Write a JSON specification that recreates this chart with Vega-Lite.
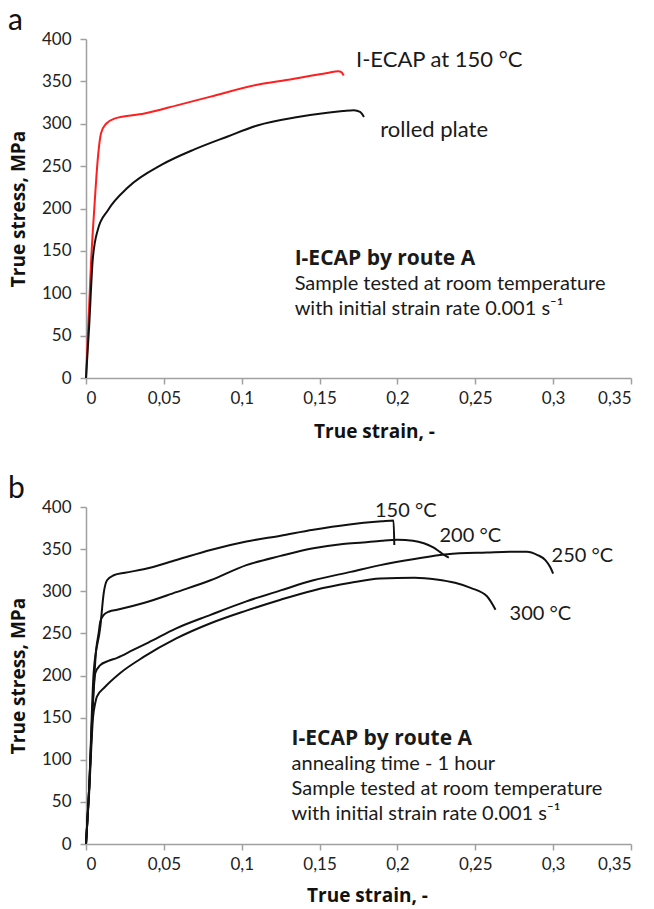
{
  "$schema": "https://vega.github.io/schema/vega-lite/v6.json",
  "padding": {"left": 8, "top": 6, "right": 10, "bottom": 0},
  "spacing": 33,
  "config": {
    "view": {"stroke": null},
    "font": "Lato",
    "axis": {"grid": false, "domainColor": "#a0a0a0", "domainWidth": 1.5, "tickColor": "#a0a0a0", "tickWidth": 1.5, "tickSize": 6, "labelFont": "Lato", "labelFontSize": 17, "labelColor": "#222222", "titleFont": "Open Sans", "titleFontSize": 19, "titleFontWeight": "bold", "titleColor": "#111111"},
    "title": {"font": "Lato", "fontSize": 30, "fontWeight": "normal", "color": "#111111", "anchor": "start", "frame": "group", "dx": -78, "offset": -6}
  },
  "vconcat": [
    {
      "title": "a",
      "width": 545,
      "height": 339,
      "encoding": {
        "x": {"field": "strain", "type": "quantitative", "scale": {"domain": [0, 0.35], "nice": false, "zero": false},
              "axis": {"values": [0, 0.05, 0.1, 0.15, 0.2, 0.25, 0.3, 0.35], "labelExpr": "replace(format(datum.value, '~g'), '.', ',')", "labelPadding": 6, "title": "True strain, -", "titleX": 288, "titleY": 44}},
        "y": {"field": "stress", "type": "quantitative", "scale": {"domain": [0, 400], "nice": false},
              "axis": {"values": [0, 50, 100, 150, 200, 250, 300, 350, 400], "labelPadding": 9, "title": "True stress, MPa", "titleX": -58}}
      },
      "layer": [
        {
          "data": {"values": [
            {"series": "I-ECAP at 150 °C", "strain": 0, "stress": 0},
            {"series": "I-ECAP at 150 °C", "strain": 0.0033, "stress": 139},
            {"series": "I-ECAP at 150 °C", "strain": 0.0054, "stress": 202},
            {"series": "I-ECAP at 150 °C", "strain": 0.0075, "stress": 257},
            {"series": "I-ECAP at 150 °C", "strain": 0.0097, "stress": 289},
            {"series": "I-ECAP at 150 °C", "strain": 0.0129, "stress": 300},
            {"series": "I-ECAP at 150 °C", "strain": 0.0182, "stress": 306},
            {"series": "I-ECAP at 150 °C", "strain": 0.0375, "stress": 312},
            {"series": "I-ECAP at 150 °C", "strain": 0.059, "stress": 322},
            {"series": "I-ECAP at 150 °C", "strain": 0.08, "stress": 332},
            {"series": "I-ECAP at 150 °C", "strain": 0.11, "stress": 346},
            {"series": "I-ECAP at 150 °C", "strain": 0.13, "stress": 352},
            {"series": "I-ECAP at 150 °C", "strain": 0.155, "stress": 360},
            {"series": "I-ECAP at 150 °C", "strain": 0.162, "stress": 362},
            {"series": "I-ECAP at 150 °C", "strain": 0.164, "stress": 361},
            {"series": "I-ECAP at 150 °C", "strain": 0.1655, "stress": 357},
            {"series": "rolled plate", "strain": 0, "stress": 0},
            {"series": "rolled plate", "strain": 0.002, "stress": 60},
            {"series": "rolled plate", "strain": 0.0043, "stress": 139},
            {"series": "rolled plate", "strain": 0.0076, "stress": 175},
            {"series": "rolled plate", "strain": 0.0141, "stress": 198},
            {"series": "rolled plate", "strain": 0.027, "stress": 225},
            {"series": "rolled plate", "strain": 0.049, "stress": 252},
            {"series": "rolled plate", "strain": 0.07, "stress": 270},
            {"series": "rolled plate", "strain": 0.091, "stress": 285},
            {"series": "rolled plate", "strain": 0.11, "stress": 298},
            {"series": "rolled plate", "strain": 0.136, "stress": 308},
            {"series": "rolled plate", "strain": 0.155, "stress": 313},
            {"series": "rolled plate", "strain": 0.165, "stress": 315},
            {"series": "rolled plate", "strain": 0.172, "stress": 316},
            {"series": "rolled plate", "strain": 0.176, "stress": 314},
            {"series": "rolled plate", "strain": 0.1785, "stress": 308}
          ]},
          "mark": {"type": "line", "strokeWidth": 2, "interpolate": "monotone"},
          "encoding": {
            "color": {"field": "series", "type": "nominal", "scale": {"domain": ["I-ECAP at 150 °C", "rolled plate"], "range": ["#ff1f1f", "#111111"]}, "legend": null}
          }
        },
        {
          "data": {"values": [
            {"label": "I-ECAP at 150 °C", "strain": 0.1734, "stress": 367},
            {"label": "rolled plate", "strain": 0.189, "stress": 284}
          ]},
          "mark": {"type": "text", "align": "left", "baseline": "alphabetic", "fontSize": 22, "color": "#1a1a1a"},
          "encoding": {"text": {"field": "label"}}
        },
        {
          "data": {"values": [
            {"label": "I-ECAP by route A", "strain": 0.134, "stress": 133}
          ]},
          "mark": {"type": "text", "align": "left", "baseline": "alphabetic", "font": "Open Sans", "fontSize": 21, "fontWeight": "bold", "color": "#1a1a1a"},
          "encoding": {"text": {"field": "label"}}
        },
        {
          "data": {"values": [
            {"label": "Sample tested at room temperature", "strain": 0.134, "stress": 104},
            {"label": "with initial strain rate 0.001 s⁻¹", "strain": 0.134, "stress": 74}
          ]},
          "mark": {"type": "text", "align": "left", "baseline": "alphabetic", "fontSize": 20, "color": "#1a1a1a"},
          "encoding": {"text": {"field": "label"}}
        }
      ]
    },
    {
      "title": "b",
      "width": 545,
      "height": 337,
      "encoding": {
        "x": {"field": "strain", "type": "quantitative", "scale": {"domain": [0, 0.35], "nice": false, "zero": false},
              "axis": {"values": [0, 0.05, 0.1, 0.15, 0.2, 0.25, 0.3, 0.35], "labelExpr": "replace(format(datum.value, '~g'), '.', ',')", "labelPadding": 6, "title": "True strain, -", "titleX": 281, "titleY": 42}},
        "y": {"field": "stress", "type": "quantitative", "scale": {"domain": [0, 400], "nice": false},
              "axis": {"values": [0, 50, 100, 150, 200, 250, 300, 350, 400], "labelPadding": 9, "title": "True stress, MPa", "titleX": -58}}
      },
      "layer": [
        {
          "data": {"values": [
            {"series": "150 °C", "strain": 0, "stress": 0},
            {"series": "150 °C", "strain": 0.002, "stress": 65},
            {"series": "150 °C", "strain": 0.0049, "stress": 203},
            {"series": "150 °C", "strain": 0.0092, "stress": 258},
            {"series": "150 °C", "strain": 0.0114, "stress": 298},
            {"series": "150 °C", "strain": 0.0135, "stress": 313},
            {"series": "150 °C", "strain": 0.0178, "stress": 319},
            {"series": "150 °C", "strain": 0.025, "stress": 322},
            {"series": "150 °C", "strain": 0.037, "stress": 326},
            {"series": "150 °C", "strain": 0.058, "stress": 337},
            {"series": "150 °C", "strain": 0.08, "stress": 349},
            {"series": "150 °C", "strain": 0.103, "stress": 359},
            {"series": "150 °C", "strain": 0.125, "stress": 366},
            {"series": "150 °C", "strain": 0.146, "stress": 373},
            {"series": "150 °C", "strain": 0.168, "stress": 379},
            {"series": "150 °C", "strain": 0.19, "stress": 383},
            {"series": "150 °C", "strain": 0.1975, "stress": 384},
            {"series": "150 °C", "strain": 0.198, "stress": 355},
            {"series": "200 °C", "strain": 0, "stress": 0},
            {"series": "200 °C", "strain": 0.002, "stress": 65},
            {"series": "200 °C", "strain": 0.0045, "stress": 170},
            {"series": "200 °C", "strain": 0.0065, "stress": 230},
            {"series": "200 °C", "strain": 0.0081, "stress": 250},
            {"series": "200 °C", "strain": 0.0092, "stress": 264},
            {"series": "200 °C", "strain": 0.0114, "stress": 272},
            {"series": "200 °C", "strain": 0.015, "stress": 276},
            {"series": "200 °C", "strain": 0.02, "stress": 278},
            {"series": "200 °C", "strain": 0.037, "stress": 286},
            {"series": "200 °C", "strain": 0.058, "stress": 299},
            {"series": "200 °C", "strain": 0.08, "stress": 313},
            {"series": "200 °C", "strain": 0.103, "stress": 331},
            {"series": "200 °C", "strain": 0.125, "stress": 342},
            {"series": "200 °C", "strain": 0.146, "stress": 351},
            {"series": "200 °C", "strain": 0.165, "stress": 356},
            {"series": "200 °C", "strain": 0.178, "stress": 358},
            {"series": "200 °C", "strain": 0.19, "stress": 360},
            {"series": "200 °C", "strain": 0.2, "stress": 361},
            {"series": "200 °C", "strain": 0.21, "stress": 360},
            {"series": "200 °C", "strain": 0.217, "stress": 357},
            {"series": "200 °C", "strain": 0.223, "stress": 352},
            {"series": "200 °C", "strain": 0.227, "stress": 347},
            {"series": "200 °C", "strain": 0.23, "stress": 343},
            {"series": "200 °C", "strain": 0.233, "stress": 340},
            {"series": "250 °C", "strain": 0, "stress": 0},
            {"series": "250 °C", "strain": 0.002, "stress": 65},
            {"series": "250 °C", "strain": 0.0045, "stress": 170},
            {"series": "250 °C", "strain": 0.006, "stress": 203},
            {"series": "250 °C", "strain": 0.009, "stress": 212},
            {"series": "250 °C", "strain": 0.014, "stress": 217},
            {"series": "250 °C", "strain": 0.02, "stress": 221},
            {"series": "250 °C", "strain": 0.03, "stress": 230},
            {"series": "250 °C", "strain": 0.04, "stress": 239},
            {"series": "250 °C", "strain": 0.058, "stress": 256},
            {"series": "250 °C", "strain": 0.08, "stress": 272},
            {"series": "250 °C", "strain": 0.103, "stress": 288},
            {"series": "250 °C", "strain": 0.125, "stress": 301},
            {"series": "250 °C", "strain": 0.146, "stress": 313},
            {"series": "250 °C", "strain": 0.17, "stress": 323},
            {"series": "250 °C", "strain": 0.189, "stress": 331},
            {"series": "250 °C", "strain": 0.21, "stress": 338},
            {"series": "250 °C", "strain": 0.232, "stress": 344},
            {"series": "250 °C", "strain": 0.2575, "stress": 346},
            {"series": "250 °C", "strain": 0.275, "stress": 347},
            {"series": "250 °C", "strain": 0.283, "stress": 347},
            {"series": "250 °C", "strain": 0.29, "stress": 343},
            {"series": "250 °C", "strain": 0.295, "stress": 337},
            {"series": "250 °C", "strain": 0.298, "stress": 329},
            {"series": "250 °C", "strain": 0.3, "stress": 321},
            {"series": "300 °C", "strain": 0, "stress": 0},
            {"series": "300 °C", "strain": 0.002, "stress": 60},
            {"series": "300 °C", "strain": 0.0045, "stress": 150},
            {"series": "300 °C", "strain": 0.006, "stress": 168},
            {"series": "300 °C", "strain": 0.007, "stress": 175},
            {"series": "300 °C", "strain": 0.012, "stress": 186},
            {"series": "300 °C", "strain": 0.022, "stress": 203},
            {"series": "300 °C", "strain": 0.037, "stress": 222},
            {"series": "300 °C", "strain": 0.058, "stress": 244},
            {"series": "300 °C", "strain": 0.08, "stress": 262},
            {"series": "300 °C", "strain": 0.103, "stress": 277},
            {"series": "300 °C", "strain": 0.125, "stress": 290},
            {"series": "300 °C", "strain": 0.146, "stress": 301},
            {"series": "300 °C", "strain": 0.17, "stress": 310},
            {"series": "300 °C", "strain": 0.189, "stress": 315},
            {"series": "300 °C", "strain": 0.211, "stress": 316},
            {"series": "300 °C", "strain": 0.225, "stress": 314},
            {"series": "300 °C", "strain": 0.237, "stress": 310},
            {"series": "300 °C", "strain": 0.247, "stress": 304},
            {"series": "300 °C", "strain": 0.2575, "stress": 294},
            {"series": "300 °C", "strain": 0.263, "stress": 278}
          ]},
          "mark": {"type": "line", "strokeWidth": 2, "interpolate": "monotone", "color": "#111111"},
          "encoding": {"detail": {"field": "series", "type": "nominal"}}
        },
        {
          "data": {"values": [
            {"label": "150 °C", "strain": 0.1856, "stress": 388},
            {"label": "200 °C", "strain": 0.227, "stress": 358},
            {"label": "250 °C", "strain": 0.299, "stress": 335},
            {"label": "300 °C", "strain": 0.272, "stress": 266}
          ]},
          "mark": {"type": "text", "align": "left", "baseline": "alphabetic", "fontSize": 20, "color": "#1a1a1a"},
          "encoding": {"text": {"field": "label"}}
        },
        {
          "data": {"values": [
            {"label": "I-ECAP by route A", "strain": 0.132, "stress": 117.5}
          ]},
          "mark": {"type": "text", "align": "left", "baseline": "alphabetic", "font": "Open Sans", "fontSize": 21, "fontWeight": "bold", "color": "#1a1a1a"},
          "encoding": {"text": {"field": "label"}}
        },
        {
          "data": {"values": [
            {"label": "annealing time - 1 hour", "strain": 0.132, "stress": 88},
            {"label": "Sample tested at room temperature", "strain": 0.132, "stress": 58},
            {"label": "with initial strain rate 0.001 s⁻¹", "strain": 0.132, "stress": 28.5}
          ]},
          "mark": {"type": "text", "align": "left", "baseline": "alphabetic", "fontSize": 20, "color": "#1a1a1a"},
          "encoding": {"text": {"field": "label"}}
        }
      ]
    }
  ]
}
